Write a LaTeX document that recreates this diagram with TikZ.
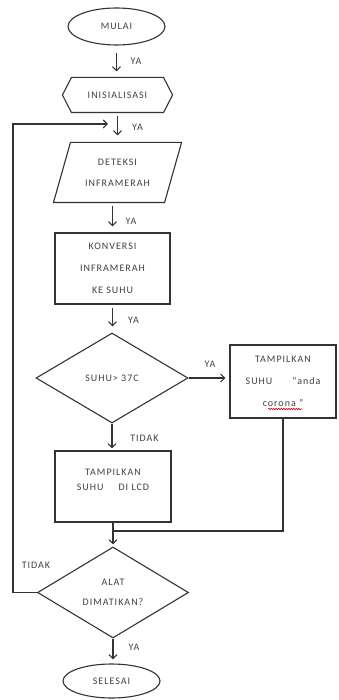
\documentclass[tikz,border=0pt]{standalone}
\usepackage{fontspec}
\setmainfont{Carlito}[LetterSpace=10]
\usetikzlibrary{shapes.geometric,arrows.meta,decorations.pathmorphing}
\begin{document}
\begin{tikzpicture}[x=1pt,y=-1pt,
  base/.style={draw=black!80, line width=1.1pt, text=black!75, font=\fontsize{10}{22}\selectfont, align=center, inner sep=0pt},
  term/.style={base, ellipse, minimum width=97pt, minimum height=37pt},
  proc/.style={base, rectangle},
  dec/.style={base, diamond},
  arr/.style={draw=black!80, line width=1.1pt, -{Straight Barb[length=4pt,width=8pt]}},
  lne/.style={draw=black!80, line width=1.1pt},
  lbl/.style={text=black!75, font=\fontsize{10}{12}\selectfont, inner sep=0pt}]
\path[fill=white] (0,0) rectangle (338,700);
\useasboundingbox (0,0) rectangle (338,700);

\node[term] (mulai) at (116.5,26.5) {MULAI};

\node[base, draw=none, minimum width=109pt, minimum height=34pt] (ini) at (117.5,95) {INISIALISASI};
\draw[lne] (ini.west) -- ([xshift=9pt]ini.north west) -- ([xshift=-9pt]ini.north east) -- (ini.east) -- ([xshift=-9pt]ini.south east) -- ([xshift=9pt]ini.south west) -- cycle;

\node[base, draw=none, minimum width=127pt, minimum height=59pt, font=\fontsize{10}{21}\selectfont] (det) at (117.5,172.5) {DETEKSI\\INFRAMERAH};
\draw[lne] ([xshift=17pt]det.north west) -- (det.north east) -- ([xshift=-17pt]det.south east) -- (det.south west) -- cycle;

\node[proc, minimum width=115pt, minimum height=71pt] (konv) at (112.5,268.5) {KONVERSI\\INFRAMERAH\\KE SUHU};

\node[dec, minimum width=152pt, minimum height=90pt] (suhu) at (112,378) {SUHU> 37C};

\node[proc, minimum width=106pt, minimum height=73pt] (tam) at (283,381.5) {TAMPILKAN\\SUHU\hspace{2em}“anda\\corona ”};
\draw[red!80!black, line width=0.6pt, decorate, decoration={snake, amplitude=0.7pt, segment length=2.5pt}] (268,409) -- (302,409);

\node[proc, minimum width=116pt, minimum height=71pt] (lcd) at (113,486.5) {};
\node[lbl, align=center, font=\fontsize{10}{15}\selectfont] (lcdtxt) at (113,479.5) {TAMPILKAN\\SUHU\hspace{1.5em}DI LCD};

\node[dec, minimum width=151pt, minimum height=91pt, font=\fontsize{10}{20}\selectfont] (alat) at (113,592.5) {ALAT\\DIMATIKAN?};

\node[term, minimum height=34pt] (sel) at (111.5,681) {SELESAI};

\coordinate (mrg) at (113,531);
\coordinate (fbc) at (13,124);
\coordinate (fbend) at (108,124);

\draw[arr, shorten <=7pt, shorten >=6pt] (mulai.south) -- (mulai.south |- ini.north);
\draw[arr, shorten <=3pt, shorten >=7pt] (ini.south) -- (ini.south |- det.north);
\draw[arr, shorten <=3pt, shorten >=6pt] (det.south -| konv.north) -- (konv.north);
\draw[arr, shorten <=3pt, shorten >=6pt] (konv.south) -- (konv.south |- suhu.north);
\draw[arr, shorten >=4pt] (suhu.east) -- (suhu.east -| tam.west);
\draw[arr, shorten >=2pt] (suhu.south) -- (suhu.south |- lcd.north);
\draw[lne] (tam.south) |- (mrg);
\draw[arr, shorten >=2pt] (lcd.south) -- (alat.north);
\draw[arr, shorten >=4pt] (alat.south) -- (alat.south |- sel.north);
\draw[arr] (alat.west) -| (fbc) -- (fbend);

\node[lbl] (ya1) at (136,61) {YA};
\node[lbl] (ya2) at (137.5,127) {YA};
\node[lbl] (ya3) at (131,221) {YA};
\node[lbl] (ya4) at (133.5,320) {YA};
\node[lbl] (ya5) at (210,364) {YA};
\node[lbl] (ya6) at (134,647) {YA};
\node[lbl] (tidak1) at (144.5,438) {TIDAK};
\node[lbl] (tidak2) at (36,565) {TIDAK};
\end{tikzpicture}
\end{document}
